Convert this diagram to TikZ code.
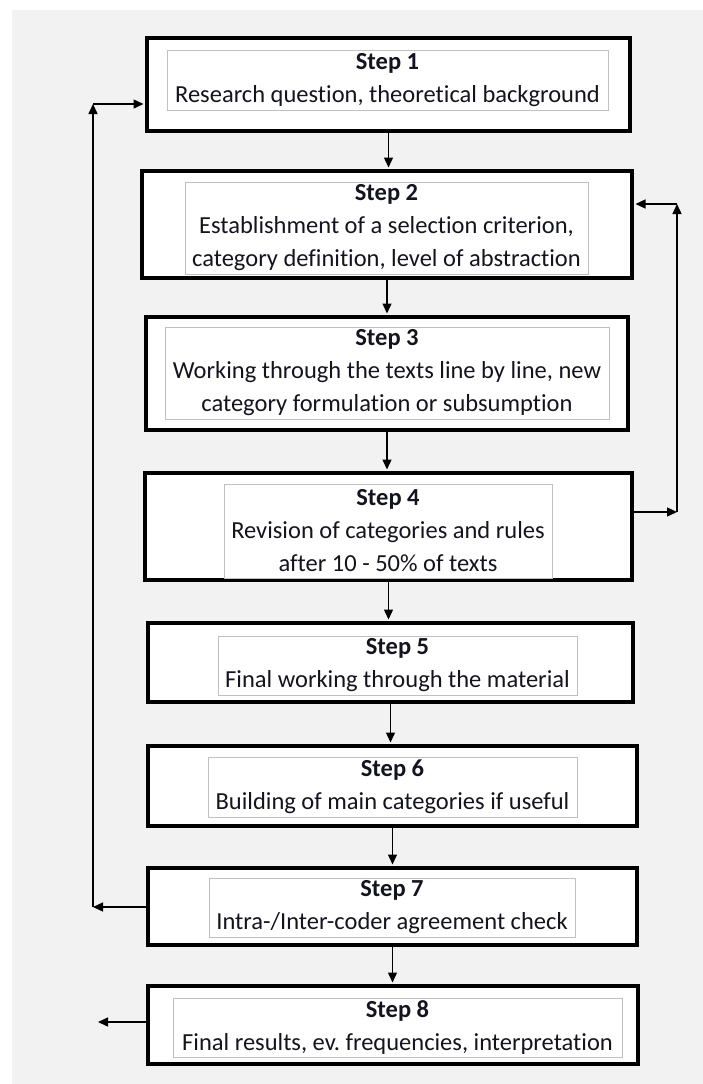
\documentclass[tikz,border=0pt]{standalone}
\usepackage{fontspec}
\setmainfont[Ligatures=NoCommon]{Carlito}
\usetikzlibrary{arrows.meta}
\frenchspacing

\definecolor{bggray}{HTML}{F2F2F2}
\definecolor{framegray}{HTML}{C0C0C0}
\definecolor{txtdark}{HTML}{141420}

\tikzset{
 outerbox/.style={draw, line width=3.5pt, fill=white, inner sep=0pt},
 innerbox/.style={draw=framegray, line width=1pt, fill=white, inner sep=0pt,
  align=center, text=txtdark, font=\fontsize{24.5}{33}\selectfont},
 flow/.style={line width=1.4pt, -{Triangle[length=10pt,width=9pt]}}
}

\begin{document}
\begin{tikzpicture}[x=1pt,y=-1pt]
 \useasboundingbox (0,0) rectangle (703,1084);
 % Background
 \fill[white] (0,0) rectangle (703,1084);
 \fill[bggray] (12,10) rectangle (703,1084);
 % Outer frames
 \foreach \n/\cx/\cy/\w/\h in {1/388.5/84.5/483/93, 2/387/224.5/490/107,
   3/387/373.5/482/113, 4/388.5/526.5/487/107, 5/390.5/662.5/485/79,
   6/392.5/786/489/80, 7/392.5/906.5/489/77, 8/393/1025/490/78}
  \node[outerbox, minimum width=\w pt, minimum height=\h pt] (s\n) at (\cx,\cy) {};
 % Step texts
 \node[innerbox, minimum width=441pt, minimum height=60pt] (t1) at (387.5,80)
  {\textbf{Step 1}\\Research question, theoretical background};
 \node[innerbox, minimum width=403pt, minimum height=92pt] (t2) at (386.5,228)
  {\textbf{Step 2}\\Establishment of a selection criterion,\\category definition, level of abstraction};
 \node[innerbox, minimum width=444pt, minimum height=92pt] (t3) at (387,373)
  {\textbf{Step 3}\\Working through the texts line by line, new\\category formulation or subsumption};
 \node[innerbox, minimum width=328pt, minimum height=94pt] (t4) at (388,531)
  {\textbf{Step 4}\\Revision of categories and rules\\after 10 - 50\% of texts};
 \node[innerbox, minimum width=359pt, minimum height=59pt] (t5) at (397.5,665.5)
  {\textbf{Step 5}\\Final working through the material};
 \node[innerbox, minimum width=369pt, minimum height=60pt] (t6) at (392.5,787)
  {\textbf{Step 6}\\Building of main categories if useful};
 \node[innerbox, minimum width=366pt, minimum height=59pt] (t7) at (392,907.5)
  {\textbf{Step 7}\\Intra-/Inter-coder agreement check};
 \node[innerbox, minimum width=449pt, minimum height=59pt] (t8) at (397.5,1027.5)
  {\textbf{Step 8}\\Final results, ev. frequencies, interpretation};
 % Downward arrows
 \foreach \i [evaluate=\i as \j using int(\i+1)] in {1,...,7}
  \draw[flow] (s\i.south) -- ([yshift=1.75pt]s\i.south |- s\j.north);
 % Feedback loop right
 \coordinate (rb) at (677,512);
 \coordinate (rt) at (677,204);
 \draw[flow] (s4.east |- rb) -- (rb);
 \draw[flow] (rb) -- (rt);
 \draw[flow] (rt) -- ([xshift=1.75pt]rt -| s2.east);
 % Feedback loop left
 \coordinate (lb) at (93,907);
 \coordinate (lt) at (93,104);
 \draw[flow] (s7.west |- lb) -- (lb);
 \draw[flow] (lb) -- (lt);
 \draw[flow] (lt) -- ([xshift=-1.75pt]lt -| s1.west);
 % Output
 \coordinate (out) at (98,1022);
 \draw[flow] (s8.west |- out) -- (out);
\end{tikzpicture}
\end{document}
